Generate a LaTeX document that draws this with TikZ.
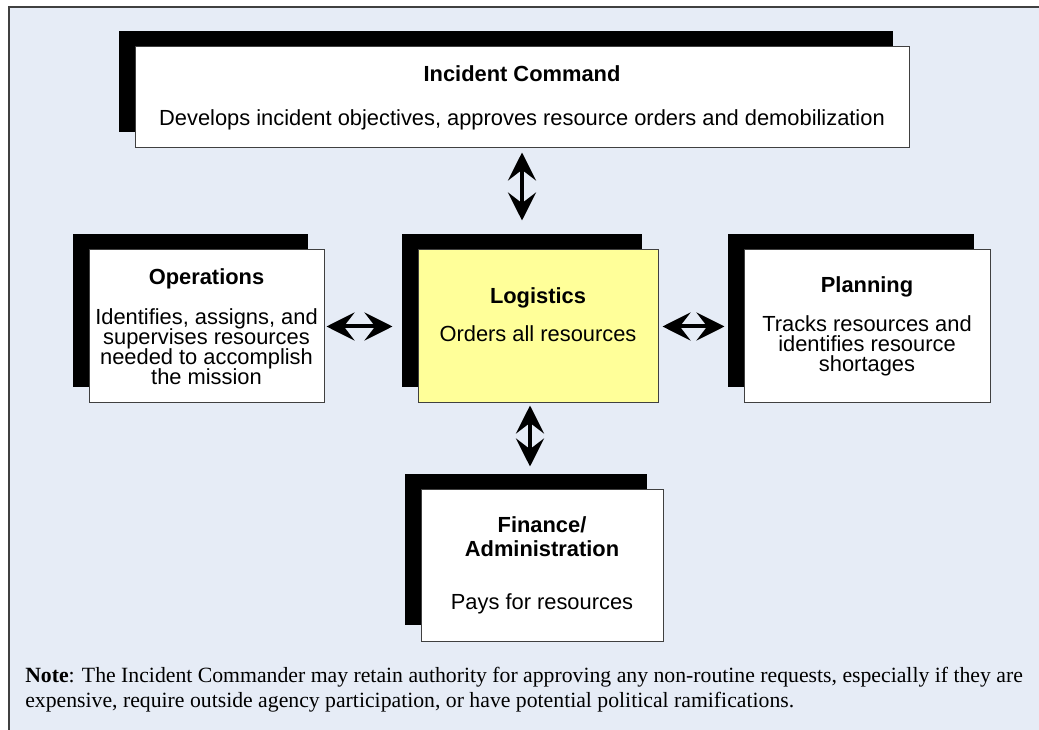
\documentclass[tikz,border=0pt]{standalone}
\usepackage{fontspec}
\setmainfont{Liberation Serif}
\setsansfont{Liberation Sans}
\usepackage{tikz}
\definecolor{mypaleblue}{RGB}{230,236,246}
\definecolor{mypaleyellow}{RGB}{255,255,153}
\definecolor{myframegray}{RGB}{64,64,64}
\usetikzlibrary{arrows.meta,positioning,shadows,calc}
\tikzset{
    unitbox/.style={
        draw=myframegray, fill=white, rectangle, line width=0.75pt,
        general shadow={fill=black, shadow xshift=-12pt, shadow yshift=12pt},
        align=center, inner sep=0pt,
        font={\sffamily\fontsize{16.4}{15}\selectfont\lineskiplimit-8pt\relax}
    }
}

\begin{document}
\begin{tikzpicture}[
  x=0.75pt, y=-0.75pt,
  dblarrow/.style={
    {Stealth[length=21pt,width=21pt,inset=8pt]}-{Stealth[length=21pt,width=21pt,inset=8pt]},
    line width=3pt
    },
  notetext/.style={
    anchor=base west, align=left, inner sep=0pt,
    font=\fontsize{16.3}{18.75}\selectfont
    }
  ]

\useasboundingbox (0,0) rectangle (1039,730);
\begin{scope}
  \clip (0,0) rectangle (1039,730);
  \draw[myframegray, fill=mypaleblue, line width=1.2pt] (9,7) rectangle (1060,760);
\end{scope}

\node[unitbox, fill=mypaleyellow, minimum width=180pt, minimum height=114.75pt]
  (log) at (538,326.5)
  {\textbf{Logistics}\\[14pt] Orders all resources\\[3pt]\mbox{}};

\node[unitbox, minimum width=580.5pt, minimum height=75.75pt]
  [above=75.75pt of log, xshift=-12pt] (ic)
  {\textbf{Incident Command}\\[18pt]
   Develops incident objectives, approves resource orders and demobilization};

\node[unitbox, minimum width=176.25pt, minimum height=114.75pt]
  [left=69.75pt of log] (ops)
  {\textbf{Operations}\\[15pt]
   Identifies, assigns, and\\ supervises resources\\ needed to accomplish\\ the mission};

\node[unitbox, minimum width=184.5pt, minimum height=114.75pt]
  [right=63.75pt of log] (plan)
  {\textbf{Planning}\\[14pt]
   Tracks resources and\\ identifies resource\\ shortages};

\node[unitbox, minimum width=181.5pt, minimum height=113.25pt]
  [below=64.5pt of log, xshift=3pt] (fin)
  {\textbf{Finance/}\\[3pt] \textbf{Administration}\\[25pt] Pays for resources};

\draw[dblarrow, shorten <=3pt, shorten >=21.75pt] (ic.south) -- (ic.south |- log.north);
\draw[dblarrow, shorten <=1.5pt, shorten >=18.75pt] (ops.east) -- (log.west);
\draw[dblarrow, shorten <=3pt, shorten >=14.25pt] (log.east) -- (plan.west);
\draw[dblarrow, shorten <=1.5pt, shorten >=17.25pt]
  ([xshift=-6pt]log.south) -- ([xshift=-6pt]log.south |- fin.north);

\node[notetext] (note1) at (25,682)
  {\textbf{Note}: The Incident Commander may retain authority for approving any non-routine requests, especially if they are};
\node[notetext] (note2) at (25,707)
  {expensive, require outside agency participation, or have potential political ramifications.};

\end{tikzpicture}
\end{document}
